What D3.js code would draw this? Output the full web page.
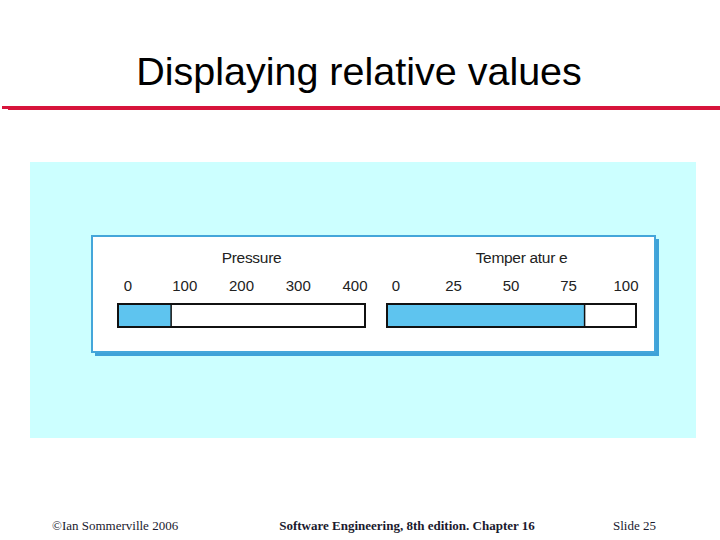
<!DOCTYPE html>
<html>
<head>
<meta charset="utf-8">
<script src="https://cdn.jsdelivr.net/npm/d3@7"></script>
<style>
  body { margin: 0; background: #fff; }
  svg { display: block; }
</style>
</head>
<body>
<svg id="slide"></svg>
<script>
(function() {

  var width = 720, height = 540;

  // gauge data
  const gaugeNames = ['Pressure', 'Temperature'];
  const gaugeValues = [76, 82];
  const gaugeMax = [400, 100];
  const pressureTicks = [0, 100, 200, 300, 400];
  const temperatureTicks = [0, 25, 50, 75, 100];
  const gaugeTitles = ['Pressure', 'Temper atur e']; // the slide has the odd spacing

  var svg = d3.select("#slide")
    .attr("width", width)
    .attr("height", height)

  // title + red rule
  svg.append("text")
    .attr("x", 359)
    .attr("y", 85)
    .attr("text-anchor", "middle")
    .attr("font-family", "Arial, 'Liberation Sans', sans-serif")
    .attr("font-size", 39.5)
    .attr("fill", "#000")
    .text("Displaying relative values")

  svg.append("rect")
    .attr("x", 2).attr("y", 106).attr("width", 8).attr("height", 3)
    .attr("fill", "#d7143b")
  svg.append("rect")
    .attr("x", 8).attr("y", 106).attr("width", 712).attr("height", 4)
    .attr("fill", "#d7143b")

  // cyan backdrop
  svg.append("rect")
    .attr("x", 30).attr("y", 162)
    .attr("width", 666).attr("height", 276)
    .attr("fill", "#ccffff")

  // panel with shadow
  svg.append("rect")
    .attr("x", 95).attr("y", 239)
    .attr("width", 564).attr("height", 117)
    .attr("fill", "#3fa2d8")
  svg.append("rect")
    .attr("x", 92).attr("y", 236)
    .attr("width", 563).attr("height", 116)
    .attr("fill", "#fff")
    .attr("stroke", "#44a6da")
    .attr("stroke-width", 2)

  // gauge layout: label positions for first and last tick, bar extents
  const layout = [
    { tick0: 128, tick1: 355, bar0: 118, bar1: 365, ticks: pressureTicks },
    { tick0: 396, tick1: 626, bar0: 387, bar1: 636, ticks: temperatureTicks }
  ]

  var barTop = 304, barH = 23;

  gaugeNames.forEach((name, i) => {
    const L = layout[i]
    const xScale = d3.scaleLinear()
      .domain([0, gaugeMax[i]])
      .range([L.tick0, L.tick1])

    const g = svg.append("g")

    // title
    g.append("text")
      .attr("x", (L.bar0 + L.bar1) / 2 + 10)
      .attr("y", 263)
      .attr("text-anchor", "middle")
      .attr("font-family", "Arial, 'Liberation Sans', sans-serif")
      .attr("font-size", 15.5)
      .attr("letter-spacing", -0.3)
      .attr("fill", "#222")
      .text(gaugeTitles[i])

    // tick labels
    g.selectAll(".tick")
      .data(L.ticks)
      .enter().append("text")
      .attr("class", "tick")
      .attr("x", (d) => xScale(d))
      .attr("y", 291)
      .attr("text-anchor", "middle")
      .attr("font-family", "Arial, 'Liberation Sans', sans-serif")
      .attr("font-size", 15)
      .attr("fill", "#222")
      .text((d) => d)

    // fill
    g.append("rect")
      .attr("x", L.bar0)
      .attr("y", barTop)
      .attr("width", xScale(gaugeValues[i]) - L.bar0)
      .attr("height", barH)
      .attr("fill", "#5ec4ef")

    // divider at value
    g.append("line")
      .attr("x1", xScale(gaugeValues[i])).attr("x2", xScale(gaugeValues[i]))
      .attr("y1", barTop).attr("y2", barTop + barH)
      .attr("stroke", "#111").attr("stroke-width", 1.5)

    // outline
    g.append("rect")
      .attr("x", L.bar0)
      .attr("y", barTop)
      .attr("width", L.bar1 - L.bar0)
      .attr("height", barH)
      .attr("fill", "none")
      .attr("stroke", "#111")
      .attr("stroke-width", 2)
  })

  // footer
  const footer = svg.append("g")
    .attr("font-family", "'Liberation Serif', 'Times New Roman', serif")
    .attr("fill", "#1a1a2e")
  footer.append("text")
    .attr("x", 52).attr("y", 530)
    .attr("font-size", 13)
    .text("©Ian Sommerville 2006")
  footer.append("text")
    .attr("x", 407).attr("y", 530)
    .attr("text-anchor", "middle")
    .attr("font-size", 13)
    .attr("font-weight", "bold")
    .text("Software Engineering, 8th edition. Chapter 16")
  footer.append("text")
    .attr("x", 613).attr("y", 530)
    .attr("font-size", 13)
    .text("Slide  25")

})()
</script>
</body>
</html>
